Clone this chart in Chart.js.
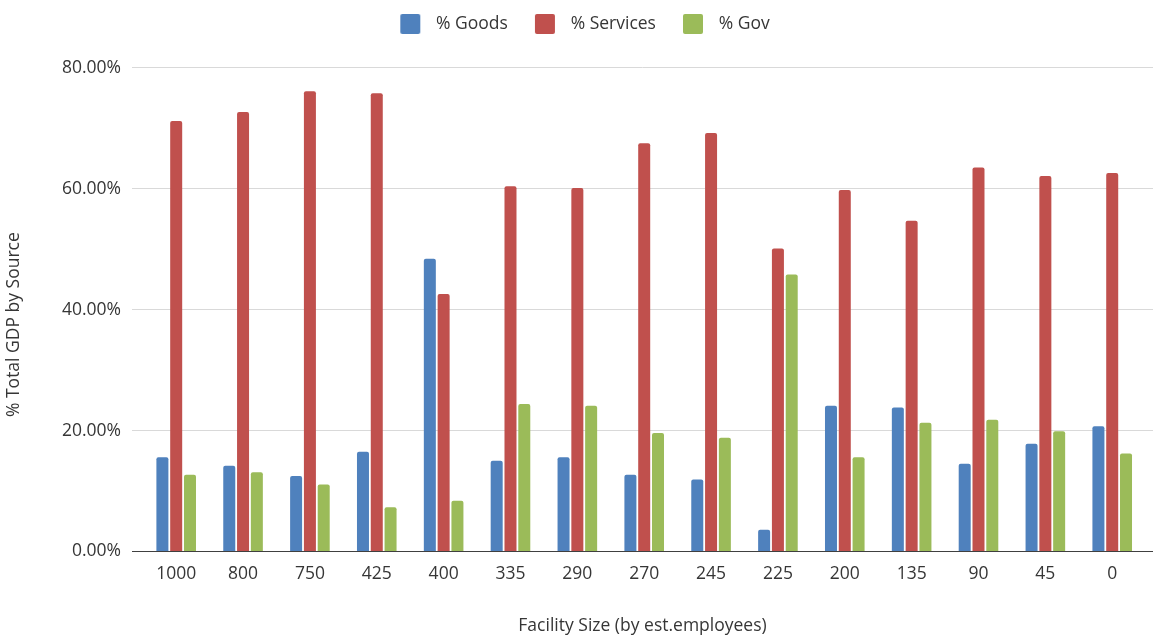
<!DOCTYPE html>
<html>
<head>
<meta charset="utf-8">
<script src="https://cdn.jsdelivr.net/npm/chart.js@4.4.0/dist/chart.umd.min.js"></script>
<style>
  html, body { margin: 0; padding: 0; background: #ffffff; }
  canvas { display: block; }
</style>
</head>
<body>
<canvas id="chart" width="1153" height="637"></canvas>
<script>
// Facility sizes (estimated employees) along the x axis
const sizes = ['1000', '800', '750', '425', '400', '335', '290', '270', '245', '225', '200', '135', '90', '45', '0'];

// Share of total GDP by source, in percent
const goods    = [15.6, 14.2, 12.5, 16.5, 48.4, 15.0, 15.6, 12.7, 11.9,  3.6, 24.1, 23.8, 14.5, 17.8, 20.7];
const services = [71.2, 72.7, 76.1, 75.8, 42.6, 60.4, 60.1, 67.5, 69.2, 50.1, 59.8, 54.7, 63.5, 62.1, 62.6];
const gov      = [12.7, 13.1, 11.1,  7.3,  8.4, 24.4, 24.1, 19.6, 18.8, 45.8, 15.6, 21.3, 21.8, 19.9, 16.2];

// Value axis ticks
const yTicks = [0, 20, 40, 60, 80];

const seriesNames  = ['% Goods', '% Services', '% Gov'];
const seriesColors = ['#4F81BD', '#C0504D', '#9BBB59'];

const FONT_FAMILY = "'Open Sans', sans-serif";
const FONT_SIZE = 17.5;
const TEXT_COLOR = '#363636';

Chart.defaults.font.family = FONT_FAMILY;
Chart.defaults.font.size = FONT_SIZE;
Chart.defaults.color = TEXT_COLOR;

// Legend swatch: a 20px square drawn on the right side of a wider transparent tile,
// so the legend gets extra room between the previous label and the next square.
function swatch(color) {
  const c = document.createElement('canvas');
  c.width = 44;
  c.height = 20;
  const g = c.getContext('2d');
  g.fillStyle = color;
  g.beginPath();
  if (g.roundRect) { g.roundRect(17, 0, 20, 20, 2); } else { g.rect(17, 0, 20, 20); }
  g.fill();
  return c;
}
const swatches = seriesColors.map(swatch);

const toPoints = vals => vals.map((v, i) => ({ x: i, y: v }));

// Leaves a gap between the legend row and the plot area
const legendGap = {
  id: 'legendGap',
  afterInit(chart) {
    const legend = chart.legend;
    if (!legend || legend._gapPatched) return;
    const fit = legend.fit;
    legend.fit = function () {
      fit.call(this);
      this.height += 25;
    };
    legend._gapPatched = true;
  }
};

// Vertical axis title, centred a little below the middle of the plot
const yAxisTitle = {
  id: 'yAxisTitle',
  afterDraw(chart) {
    const { ctx, chartArea } = chart;
    ctx.save();
    ctx.translate(14.5, (chartArea.top + chartArea.bottom) / 2 + 15);
    ctx.rotate(-Math.PI / 2);
    ctx.font = FONT_SIZE + 'px ' + FONT_FAMILY;
    ctx.fillStyle = TEXT_COLOR;
    ctx.textAlign = 'center';
    ctx.textBaseline = 'middle';
    ctx.fillText('% Total GDP by Source', 0, 0);
    ctx.restore();
  }
};

new Chart(document.getElementById('chart'), {
  type: 'bar',
  data: {
    datasets: [goods, services, gov].map((vals, k) => ({
      label: seriesNames[k],
      data: toPoints(vals),
      backgroundColor: seriesColors[k],
      borderRadius: 2,
      borderSkipped: 'start',
      categoryPercentage: 0.619,
      barPercentage: 0.87
    }))
  },
  options: {
    responsive: false,
    animation: false,
    devicePixelRatio: 1,
    layout: { padding: { top: 5.25, left: 0, right: 0, bottom: 0 } },
    plugins: {
      legend: {
        position: 'top',
        labels: {
          usePointStyle: true,
          pointStyleWidth: 44,
          padding: 10,
          color: TEXT_COLOR,
          font: { size: FONT_SIZE },
          generateLabels(chart) {
            const items = Chart.defaults.plugins.legend.labels.generateLabels(chart);
            items.forEach((it, i) => { it.pointStyle = swatches[i]; });
            return items;
          }
        }
      },
      tooltip: { enabled: false }
    },
    scales: {
      x: {
        type: 'linear',
        min: -0.661,
        max: 14.61,
        offset: false,
        afterBuildTicks(scale) {
          scale.ticks = sizes.map((_, i) => ({ value: i }));
        },
        afterFit(scale) {
          scale.height = 637 - 551.5;
        },
        grid: { display: false, drawTicks: false },
        border: { display: true, color: '#404040', width: 1 },
        ticks: {
          padding: 12,
          autoSkip: false,
          maxRotation: 0,
          minRotation: 0,
          color: TEXT_COLOR,
          callback: v => (sizes[v] !== undefined ? sizes[v] : '')
        },
        title: {
          display: true,
          text: 'Facility Size (by est.employees)',
          color: TEXT_COLOR,
          padding: { top: 0, bottom: 0 }
        }
      },
      y: {
        min: 0,
        max: 80,
        afterBuildTicks(scale) {
          scale.ticks = yTicks.map(v => ({ value: v }));
        },
        afterFit(scale) {
          scale.width = 132;
        },
        grid: { color: '#D9D9D9', lineWidth: 1, drawTicks: false },
        border: { display: false },
        ticks: {
          padding: 11,
          color: TEXT_COLOR,
          callback: v => v.toFixed(2) + '%'
        }
      }
    }
  },
  plugins: [legendGap, yAxisTitle]
});
</script>
</body>
</html>
